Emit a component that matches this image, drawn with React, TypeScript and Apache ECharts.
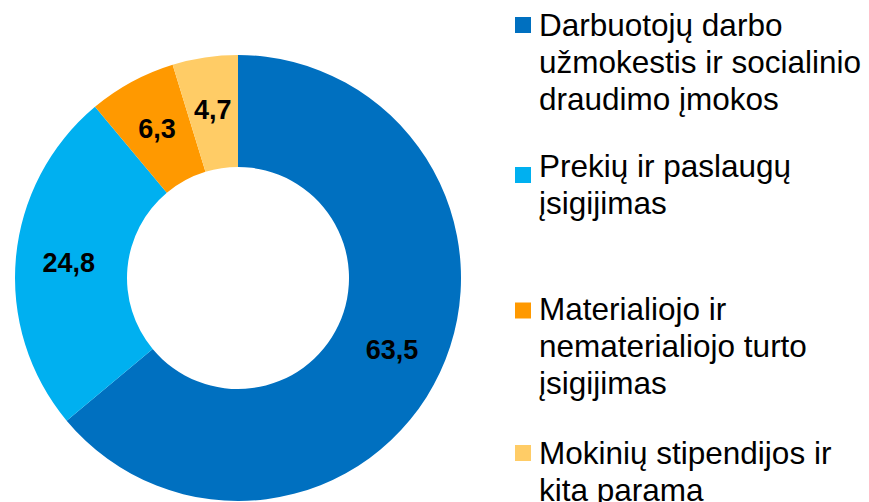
import React, { useEffect, useRef } from "react";
import * as echarts from "echarts";

const categories = [
  "Darbuotojų darbo užmokestis ir socialinio draudimo įmokos",
  "Prekių ir paslaugų įsigijimas",
  "Materialiojo ir nematerialiojo turto įsigijimas",
  "Mokinių stipendijos ir kita parama",
];
const legendLines = [
  "Darbuotojų darbo\nužmokestis ir socialinio\ndraudimo įmokos",
  "Prekių ir paslaugų\nįsigijimas",
  "Materialiojo ir\nnematerialiojo turto\nįsigijimas",
  "Mokinių stipendijos ir\nkita parama",
];
const values = [63.5, 24.8, 6.3, 4.7];
const valueLabels = ["63,5", "24,8", "6,3", "4,7"];
const colors = ["#0070C0", "#00B0F0", "#FF9900", "#FFCC66"];

// layout (legend block positions)
const legendTextTop = [6, 147.5, 290, 434];
const legendSquareTop = [17, 167, 302.5, 445];

export default function App() {
  const ref = useRef<HTMLDivElement>(null);
  useEffect(() => {
    if (!ref.current) return;
    const chart = echarts.init(ref.current, null, { renderer: "svg" });
    const graphic: any[] = [];
    categories.forEach((_, i) => {
      graphic.push({
        type: "rect",
        shape: { x: 515, y: legendSquareTop[i], width: 16, height: 16 },
        style: { fill: colors[i] },
      });
      graphic.push({
        type: "text",
        x: 539,
        y: legendTextTop[i],
        style: {
          text: legendLines[i],
          fill: "#000000",
          font: '31.5px "Liberation Sans", Arial, sans-serif',
          lineHeight: 37.3,
          verticalAlign: "top",
          align: "left",
        },
      });
    });
    chart.setOption({
      animation: false,
      backgroundColor: "#ffffff",
      graphic,
      series: [
        {
          type: "pie",
          center: [238, 278],
          radius: [111, 223],
          startAngle: 90,
          clockwise: true,
          silent: true,
          label: {
            show: true,
            position: "inside",
            formatter: (p: any) => valueLabels[p.dataIndex],
            color: "#000000",
            fontSize: 27,
            fontWeight: "bold",
            fontFamily: '"Liberation Sans", Arial, sans-serif',
          },
          labelLine: { show: false },
          itemStyle: { borderWidth: 0 },
          emphasis: { disabled: true },
          data: categories.map((name, i) => ({
            name,
            value: values[i],
            itemStyle: { color: colors[i] },
          })),
        },
      ],
    });
    return () => chart.dispose();
  }, []);
  return (
    <div
      ref={ref}
      style={{ position: "fixed", left: 0, top: 0, width: 869, height: 502 }}
    />
  );
}
